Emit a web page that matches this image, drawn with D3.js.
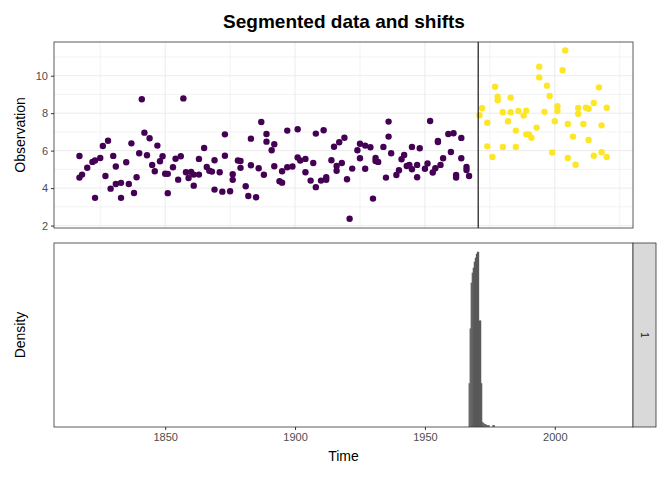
<!DOCTYPE html>
<html>
<head>
<meta charset="utf-8">
<script src="https://cdn.jsdelivr.net/npm/d3@7"></script>
<style>
  body { margin: 0; background: #fff; }
  text { font-family: "Liberation Sans", Arial, sans-serif; }
</style>
</head>
<body>
<svg id="chart" width="672" height="480"></svg>
<script>
// =============
// data
// =============

const segAYears = [1817,1817,1818,1820,1822,1823,1823,1825,1826,1827,1828,1829,1830,1831,1831,1833,1833,1835,1836,1837,
  1838,1839,1840,1841,1842,1843,1844,1845,1846,1847,1848,1849,1850,1851,1851,1853,1854,1855,1856,1857,
  1858,1859,1860,1861,1861,1863,1863,1865,1866,1867,1868,1869,1869,1871,1872,1873,1873,1875,1876,1876,
  1878,1879,1879,1881,1882,1883,1883,1885,1886,1887,1888,1889,1889,1891,1892,1892,1894,1895,1895,1897,
  1897,1899,1901,1901,1902,1904,1904,1906,1907,1908,1908,1910,1911,1912,1912,1914,1915,1916,1916,1917,
  1918,1919,1920,1921,1922,1924,1925,1925,1927,1927,1929,1930,1931,1931,1932,1934,1935,1936,1936,1937,
  1939,1940,1941,1942,1943,1944,1945,1945,1947,1947,1948,1950,1951,1952,1953,1954,1955,1955,1956,1957,
  1959,1960,1961,1962,1962,1964,1964,1966,1966,1967];
const segAValues = [5.71,4.56,4.72,5.09,5.40,5.47,3.48,5.61,6.25,4.65,6.53,3.97,5.72,5.15,4.22,4.28,3.48,5.38,4.22,6.39,
  3.74,4.58,5.86,8.74,6.96,5.75,6.66,5.24,4.90,6.27,5.43,5.70,4.77,4.76,3.73,5.11,5.57,4.45,5.70,8.79,
  4.85,4.54,4.86,4.13,4.72,4.72,5.56,6.14,5.13,4.93,4.88,5.49,3.92,4.85,3.81,6.87,5.73,3.83,4.44,4.74,
  5.47,5.08,5.45,4.10,3.58,6.64,5.22,3.51,5.06,7.53,4.71,6.48,6.89,6.02,6.34,5.17,4.37,4.29,4.90,7.07,
  5.11,5.15,7.14,5.63,5.47,5.56,4.85,4.40,5.34,6.91,4.05,4.40,7.09,4.44,4.58,5.49,6.21,4.93,5.18,6.45,
  5.34,6.69,4.47,2.36,5.04,6.02,6.37,5.59,6.27,5.03,6.18,3.44,5.61,5.45,5.40,6.20,4.56,7.55,6.75,5.86,
  4.70,4.95,5.54,5.77,5.18,5.24,6.20,5.01,4.58,5.24,6.13,5.03,5.31,7.58,4.83,5.06,6.46,6.52,5.24,5.59,
  6.89,5.93,6.93,4.70,4.56,6.68,5.59,4.97,5.13,4.65];

const segBYears = [1971,1972,1974,1974,1976,1977,1978,1978,1980,1980,1982,1983,1983,1985,1985,1986,1988,1989,1989,1990,
  1991,1993,1994,1994,1996,1997,1998,1999,2000,2001,2001,2003,2004,2005,2005,2007,2008,2009,2009,2011,
  2012,2013,2013,2015,2015,2017,2018,2018,2020,2020];
const segBValues = [7.89,8.26,7.49,6.23,5.66,9.41,8.88,8.69,8.05,6.20,7.57,8.83,8.05,7.07,6.20,8.12,7.87,8.13,6.87,6.87,
  6.69,7.23,10.48,9.91,8.07,9.47,8.92,5.90,7.57,8.37,8.12,10.29,11.35,7.42,5.61,6.75,5.25,8.28,7.97,7.42,
  8.29,6.57,8.24,8.54,5.73,9.38,5.92,7.35,8.29,5.66];

const shiftAt = 1970.5;

// posterior shift location histogram (bin start, bin width 0.4 yr)
const binStarts = [1966.8,1967.2,1967.6,1968.0,1968.4,1968.8,1969.2,1969.6,1970.0,1970.4,1970.8,1971.2,1971.6,
  1972.0,1972.4,1972.8,1973.2,1973.6,1974.0,1974.4,1974.8,1975.2,1975.6,1976.0,1976.4];
const binDensity = [44,99,145,155,160,166,170,174,176,176,107,107,44,
  5,4,3,3,2,2,2,0,0,0,2,2];
const binWidth = 0.4;

const xTicks = [1850, 1900, 1950, 2000];
const yTicks = [2, 4, 6, 8, 10];

// =============
// layout
// =============

const svg = d3.select('#chart');
const left = 54, right = 633;
const top1 = 42, bottom1 = 228;
const top2 = 243, bottom2 = 427;
const stripW = 23;

const x = d3.scaleLinear().domain([1807.2, 2030.1]).range([left, right]);
const y1 = d3.scaleLinear().domain([1.87, 11.8]).range([bottom1, top1]);
const y2 = d3.scaleLinear().domain([0, d3.max(binDensity) * 1.05]).range([bottom2, top2]);

svg.append('text').attr('x', 344).attr('y', 28).attr('text-anchor', 'middle')
  .attr('font-size', 19).attr('font-weight', 'bold').attr('fill', '#000')
  .text('Segmented data and shifts');

// =============
// top panel
// =============

const g1 = svg.append('g');
g1.append('rect').attr('x', left).attr('y', top1).attr('width', right - left).attr('height', bottom1 - top1).attr('fill', '#fff');

const minorY = d3.range(3, 12, 2);
g1.selectAll('.gy').data(yTicks.concat(minorY)).enter().append('line')
  .attr('x1', left).attr('x2', right).attr('y1', d => y1(d)).attr('y2', d => y1(d))
  .attr('stroke', '#ebebeb').attr('stroke-width', (d, i) => i < yTicks.length ? 1 : 0.6);
g1.selectAll('.gx').data(d3.range(1825, 2030, 25)).enter().append('line')
  .attr('y1', top1).attr('y2', bottom1).attr('x1', d => x(d)).attr('x2', d => x(d))
  .attr('stroke', '#ebebeb').attr('stroke-width', d => d % 50 === 0 ? 1 : 0.6);

const ptsA = segAYears.map((yr, i) => ({ yr, v: segAValues[i] }));
const ptsB = segBYears.map((yr, i) => ({ yr, v: segBValues[i] }));

g1.selectAll('.pa').data(ptsA).enter().append('circle')
  .attr('cx', d => x(d.yr)).attr('cy', d => y1(d.v)).attr('r', 3.2).attr('fill', '#440154');
g1.selectAll('.pb').data(ptsB).enter().append('circle')
  .attr('cx', d => x(d.yr)).attr('cy', d => y1(d.v)).attr('r', 3.2).attr('fill', '#FDE725');

g1.append('line').attr('x1', x(shiftAt)).attr('x2', x(shiftAt)).attr('y1', top1).attr('y2', bottom1)
  .attr('stroke', '#000').attr('stroke-width', 1.1);

g1.append('rect').attr('x', left).attr('y', top1).attr('width', right - left).attr('height', bottom1 - top1)
  .attr('fill', 'none').attr('stroke', '#333').attr('stroke-width', 0.8);

const yAxis = g1.append('g').attr('transform', `translate(${left},0)`)
  .call(d3.axisLeft(y1).tickValues(yTicks).tickSize(3).tickPadding(3));
yAxis.select('.domain').remove();
yAxis.selectAll('line').attr('stroke', '#333');
yAxis.selectAll('text').attr('font-size', 11).attr('fill', '#4d4d4d');

svg.append('text').attr('transform', `translate(25,${(top1 + bottom1) / 2}) rotate(-90)`)
  .attr('text-anchor', 'middle').attr('font-size', 14).attr('fill', '#000').text('Observation');

// =============
// bottom panel
// =============

const g2 = svg.append('g');
g2.selectAll('.bar').data(binStarts).enter().append('rect')
  .attr('x', d => x(d)).attr('width', d => x(d + binWidth) - x(d) + 0.2)
  .attr('y', (d, i) => y2(binDensity[i])).attr('height', (d, i) => y2(0) - y2(binDensity[i]))
  .attr('fill', '#595959');

g2.append('rect').attr('x', left).attr('y', top2).attr('width', right - left).attr('height', bottom2 - top2)
  .attr('fill', 'none').attr('stroke', '#333').attr('stroke-width', 0.8);

g2.append('rect').attr('x', right).attr('y', top2).attr('width', stripW).attr('height', bottom2 - top2)
  .attr('fill', '#d9d9d9').attr('stroke', '#333').attr('stroke-width', 0.8);
g2.append('text').attr('transform', `translate(${right + stripW / 2},${(top2 + bottom2) / 2}) rotate(90)`)
  .attr('text-anchor', 'middle').attr('dy', '0.35em').attr('font-size', 10).attr('fill', '#1a1a1a').text('1');

const xAxis = g2.append('g').attr('transform', `translate(0,${bottom2})`)
  .call(d3.axisBottom(x).tickValues(xTicks).tickFormat(d3.format('d')).tickSize(3).tickPadding(3));
xAxis.select('.domain').remove();
xAxis.selectAll('line').attr('stroke', '#333');
xAxis.selectAll('text').attr('font-size', 11).attr('fill', '#4d4d4d');

svg.append('text').attr('x', (left + right) / 2).attr('y', 461).attr('text-anchor', 'middle')
  .attr('font-size', 14).attr('fill', '#000').text('Time');
svg.append('text').attr('transform', `translate(25,${(top2 + bottom2) / 2}) rotate(-90)`)
  .attr('text-anchor', 'middle').attr('font-size', 14).attr('fill', '#000').text('Density');
</script>
</body>
</html>
